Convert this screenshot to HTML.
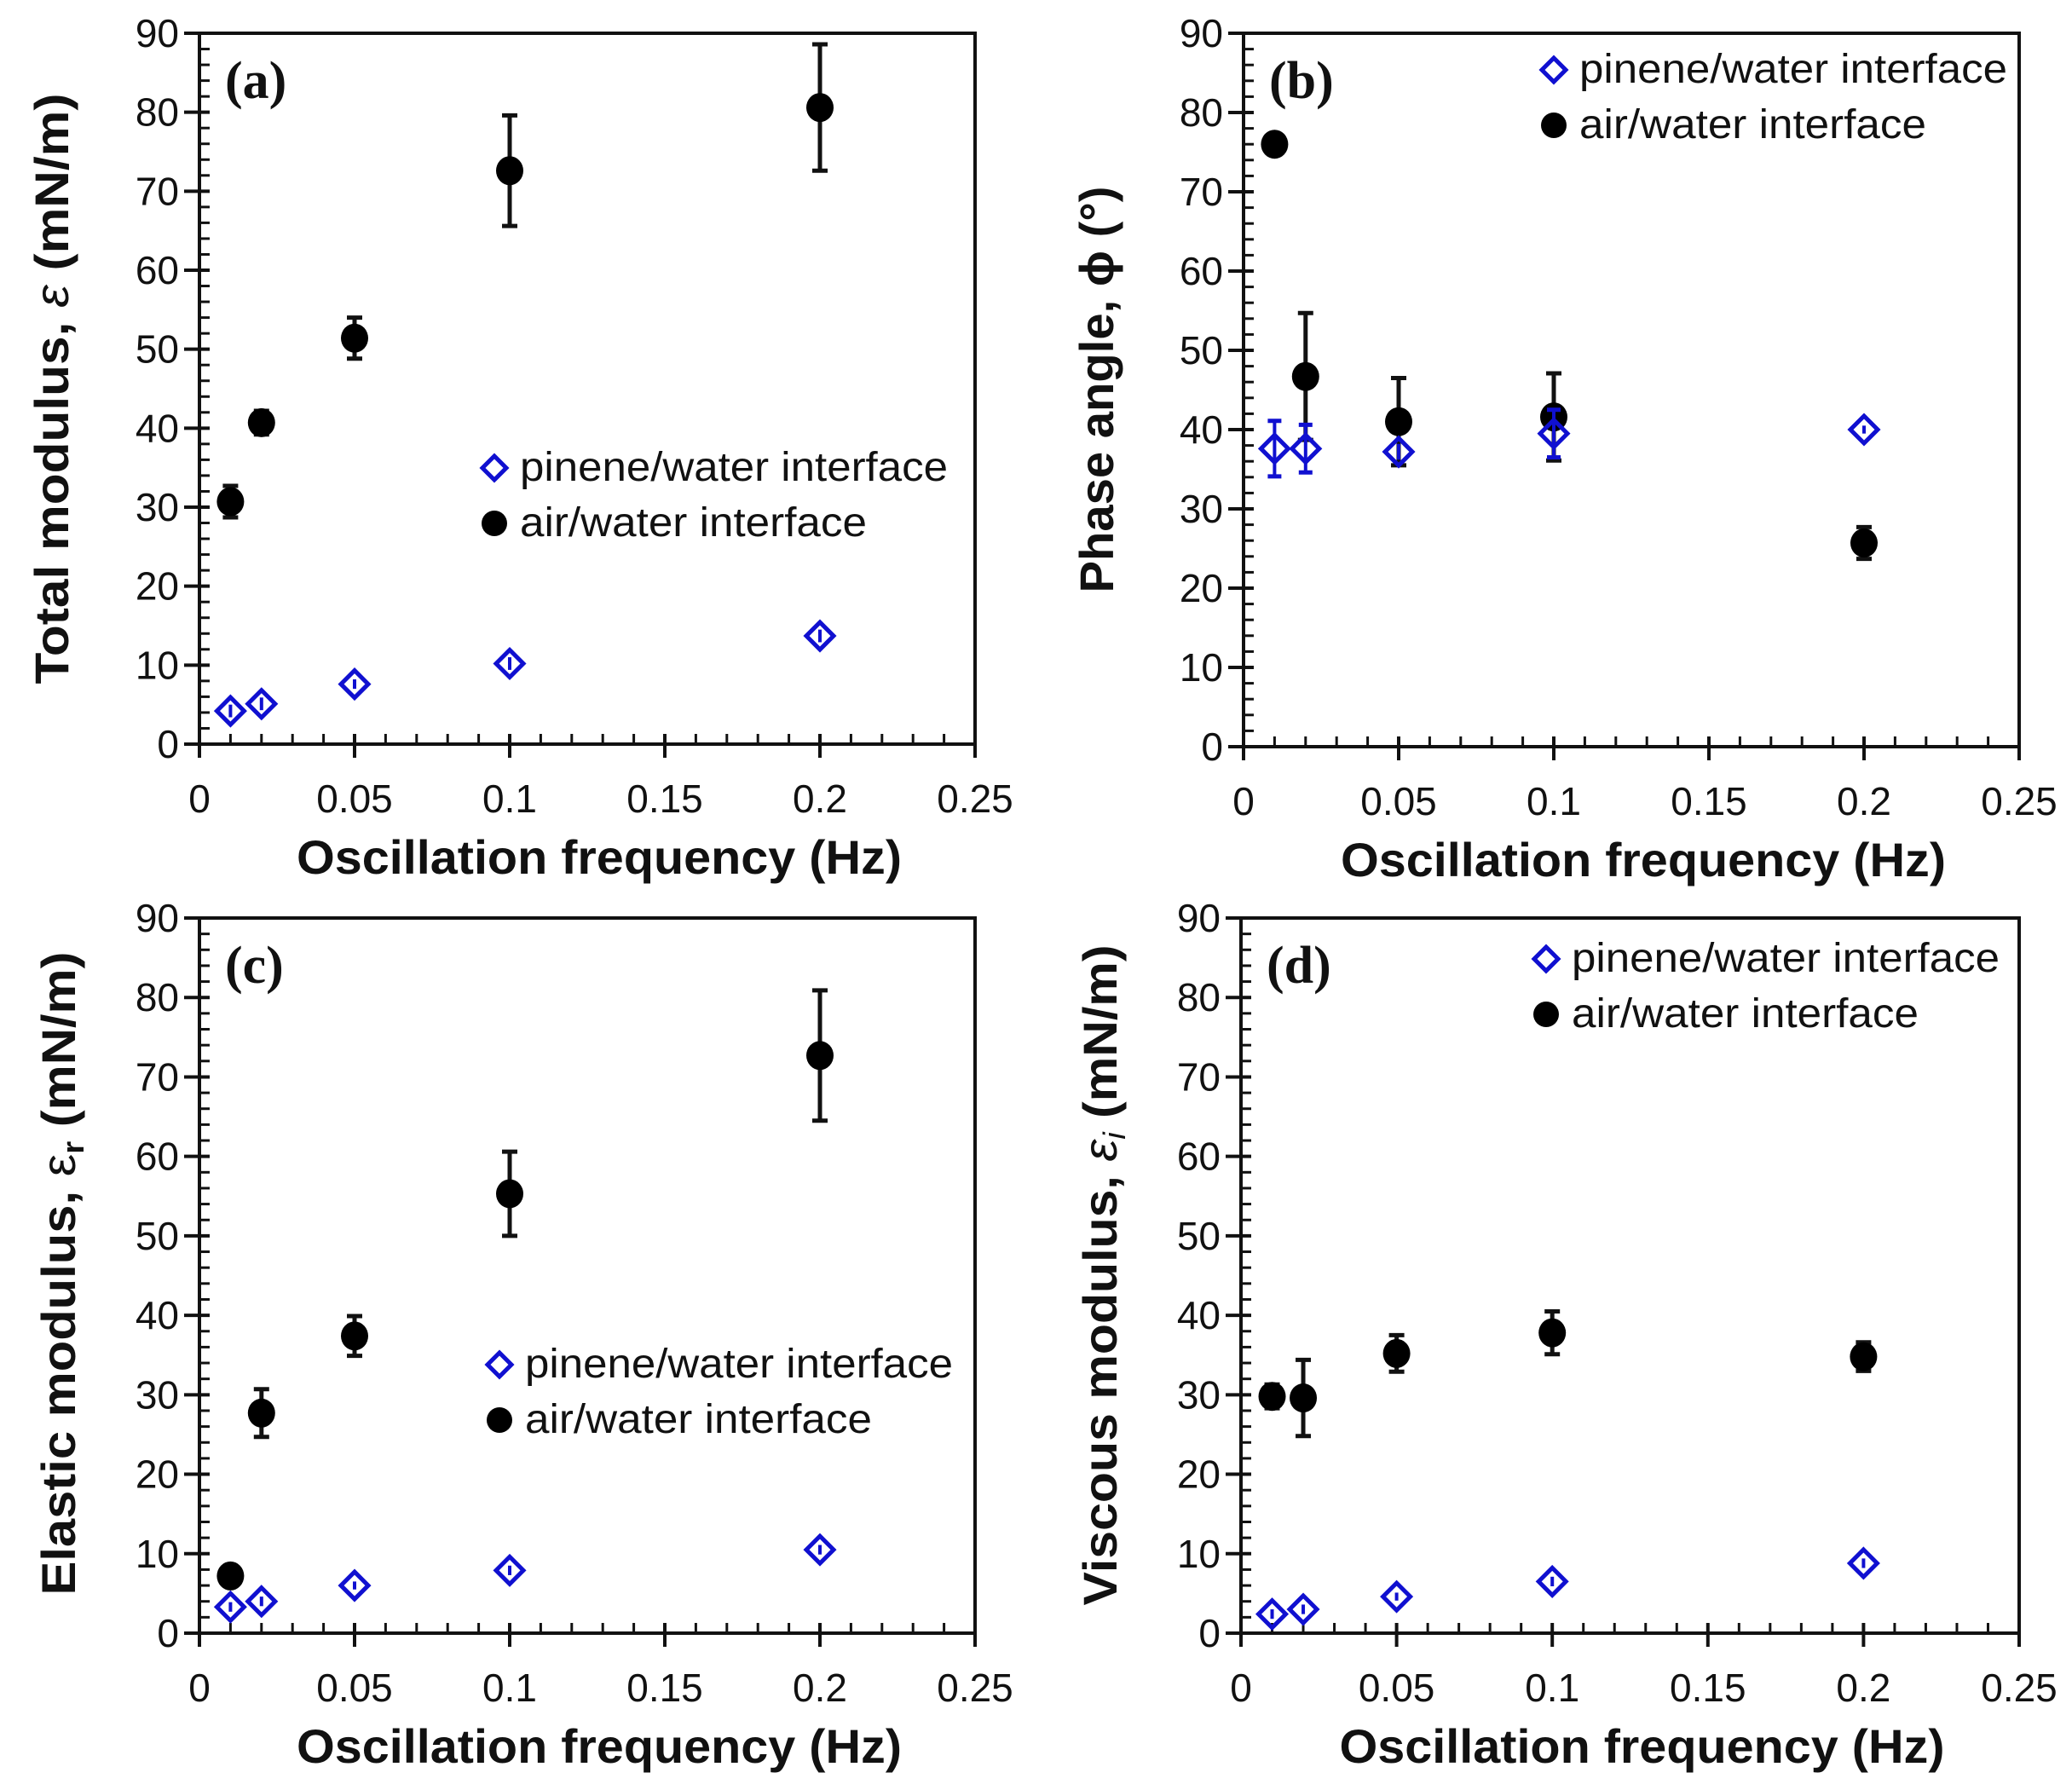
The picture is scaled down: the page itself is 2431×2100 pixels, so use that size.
<!DOCTYPE html>
<html><head><meta charset="utf-8"><style>
html,body{margin:0;padding:0;background:#fff}
svg{display:block}
text{font-family:"Liberation Sans",sans-serif;fill:#111}
</style></head><body>
<svg id="fig" width="2431" height="2100" viewBox="0 0 2431 2100"></svg>
<script>
const freqs = [0.01, 0.02, 0.05, 0.1, 0.2];
const xTicks = ["0","0.05","0.1","0.15","0.2","0.25"];
const yTicks = ["0","10","20","30","40","50","60","70","80","90"];
const aPinene = [4.2, 5.1, 7.6, 10.2, 13.7];
const aPineneErr = [0.8, 0.8, 0.6, 0.8, 0.8];
const aAir = [30.7, 40.7, 51.4, 72.6, 80.6];
const aAirErr = [2.0, 1.5, 2.6, 7.0, 8.0];
const bPinene = [37.6, 37.6, 37.2, 39.5, 40.0];
const bPineneErr = [3.5, 3.0, 1.0, 3.0, 0.5];
const bAir = [76.0, 46.7, 41.0, 41.6, 25.7];
const bAirErr = [0, 8.0, 5.5, 5.5, 2.0];
const cPinene = [3.3, 4.0, 6.0, 7.9, 10.5];
const cPineneErr = [0.6, 0.6, 0.5, 0.6, 0.6];
const cAir = [7.2, 27.7, 37.4, 55.3, 72.7];
const cAirErr = [0, 3.0, 2.5, 5.3, 8.2];
const dPinene = [2.4, 3.0, 4.6, 6.5, 8.8];
const dPineneErr = [0.6, 0.6, 0.5, 0.6, 0.6];
const dAir = [29.8, 29.6, 35.2, 37.8, 34.8];
const dAirErr = [1.5, 4.8, 2.3, 2.7, 1.8];

const NS = "http://www.w3.org/2000/svg";
const svg = document.getElementById("fig");
function mk(tag, attrs, parent, txt){
  const e = document.createElementNS(NS, tag);
  for (const k in attrs) e.setAttribute(k, attrs[k]);
  if (txt !== undefined) e.textContent = txt;
  (parent||svg).appendChild(e);
  return e;
}
const BLUE = "#1010d0";

function panel(o){
  const g = mk("g", {});
  
  
  const L=o.L,R=o.R,T=o.T,B=o.B;
  const xs = v => L + (v/0.25)*(R-L);
  const ys = v => B - (v/90)*(B-T);
  const fr = mk("rect", {x:L,y:T,width:R-L,height:B-T,fill:"none",stroke:"#111","stroke-width":4}, g);
  
  
  for (let v=0; v<=90; v+=2){
    const y=ys(v);
    if (v%10===0){ mk("line",{x1:L-18,x2:L+12,y1:y,y2:y,stroke:"#111","stroke-width":4},g); }
    else mk("line",{x1:L,x2:L+12,y1:y,y2:y,stroke:"#111","stroke-width":3},g);
  }
  yTicks.forEach(t=>{
    const e = mk("text",{x:L-24,y:ys(+t)+16,"text-anchor":"end","font-size":46},g,t);
    
    
  });
  for (let i=0;i<=25;i++){
    const x=xs(i*0.01);
    if (i%5===0) mk("line",{x1:x,x2:x,y1:B-12,y2:B+16,stroke:"#111","stroke-width":4},g);
    else mk("line",{x1:x,x2:x,y1:B-12,y2:B,stroke:"#111","stroke-width":3},g);
  }
  xTicks.forEach(t=>{
    const e = mk("text",{x:xs(+t),y:B+80,"text-anchor":"middle","font-size":46},g,t);
    
    
  });
  const xt = mk("text",{x:(L+R)/2+14,y:B+152,"text-anchor":"middle","font-size":56,"font-weight":"bold",textLength:710,lengthAdjust:"spacingAndGlyphs"},g,"Oscillation frequency (Hz)");
  
  
  const yt = mk("text",{x:0,y:0,"text-anchor":"middle","font-size":56,"font-weight":"bold",textLength:o.ytLen,lengthAdjust:"spacingAndGlyphs",transform:`translate(${o.ytX},${o.ytY}) rotate(-90)`},g);
  yt.innerHTML = o.ytitle;
  
  
  const pl = mk("text",{x:L+30,y:T+76,"font-size":62,"font-weight":"bold",style:"font-family:'Liberation Serif',serif"},g,"("+o.id+")");
  
  
  freqs.forEach((f,i)=>{
    const x=xs(f), y=ys(o.air[i]), e=o.airErr[i];
    if (e>0){
      mk("line",{x1:x,x2:x,y1:ys(o.air[i]-e),y2:ys(o.air[i]+e),stroke:"#111","stroke-width":5},g);
      mk("line",{x1:x-9,x2:x+9,y1:ys(o.air[i]-e),y2:ys(o.air[i]-e),stroke:"#111","stroke-width":5},g);
      mk("line",{x1:x-9,x2:x+9,y1:ys(o.air[i]+e),y2:ys(o.air[i]+e),stroke:"#111","stroke-width":5},g);
    }
    const c = mk("ellipse",{cx:x,cy:y,rx:16,ry:17,fill:"#000"},g);
    
    
  });
  freqs.forEach((f,i)=>{
    const x=xs(f), y=ys(o.pin[i]), e=o.pinErr[i];
    mk("line",{x1:x,x2:x,y1:ys(o.pin[i]-e),y2:ys(o.pin[i]+e),stroke:BLUE,"stroke-width":4},g);
    if (e>1.2){
      mk("line",{x1:x-8,x2:x+8,y1:ys(o.pin[i]-e),y2:ys(o.pin[i]-e),stroke:BLUE,"stroke-width":5},g);
      mk("line",{x1:x-8,x2:x+8,y1:ys(o.pin[i]+e),y2:ys(o.pin[i]+e),stroke:BLUE,"stroke-width":5},g);
    }
    const d = mk("path",{d:`M${x} ${y-16}L${x+16} ${y}L${x} ${y+16}L${x-16} ${y}Z`,fill:"none",stroke:BLUE,"stroke-width":5},g);
    
    
  });
  const lg = mk("g",{},g);
  
  
  const lx=o.lgX, ly=o.lgY;
  mk("path",{d:`M${lx} ${ly-14}L${lx+14} ${ly}L${lx} ${ly+14}L${lx-14} ${ly}Z`,fill:"none",stroke:BLUE,"stroke-width":5},lg);
  const t1 = mk("text",{x:lx+30,y:ly+15,"font-size":48,textLength:502,lengthAdjust:"spacingAndGlyphs"},lg,"pinene/water interface");
  
  
  mk("circle",{cx:lx,cy:ly+65,r:15,fill:"#000"},lg);
  const t2 = mk("text",{x:lx+30,y:ly+80,"font-size":48,textLength:407,lengthAdjust:"spacingAndGlyphs"},lg,"air/water interface");
  
  
}

panel({id:"a",L:234,R:1144,T:39,B:873,pin:aPinene,pinErr:aPineneErr,air:aAir,airErr:aAirErr,
  ytitle:'Total modulus, <tspan font-style="italic" font-weight="normal">ε</tspan> (mN/m)',ytLen:693,ytX:80,ytY:456,lgX:580,lgY:549});
panel({id:"b",L:1459,R:2369,T:39,B:876,pin:bPinene,pinErr:bPineneErr,air:bAir,airErr:bAirErr,
  ytitle:'Phase angle, ϕ (°)',ytLen:477,ytX:1306,ytY:457,lgX:1823,lgY:82});
panel({id:"c",L:234,R:1144,T:1077,B:1916,pin:cPinene,pinErr:cPineneErr,air:cAir,airErr:cAirErr,
  ytitle:'Elastic modulus, <tspan font-weight="normal">ε</tspan><tspan font-size="36" dy="10">r</tspan><tspan dy="-10"> (mN/m)</tspan>',ytLen:755,ytX:88,ytY:1494,lgX:586,lgY:1601});
panel({id:"d",L:1456,R:2369,T:1077,B:1916,pin:dPinene,pinErr:dPineneErr,air:dAir,airErr:dAirErr,
  ytitle:'Viscous modulus, <tspan font-style="italic" font-weight="normal">ε</tspan><tspan font-size="36" font-style="italic" font-weight="normal" dy="10">i</tspan><tspan dy="-10"> (mN/m)</tspan>',ytLen:775,ytX:1310,ytY:1496,lgX:1814,lgY:1125});
</script>
</body></html>
